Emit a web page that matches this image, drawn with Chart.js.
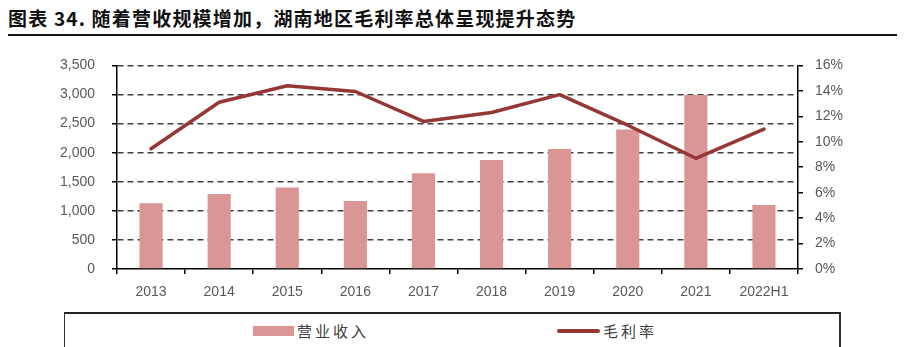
<!DOCTYPE html>
<html>
<head>
<meta charset="utf-8">
<script src="https://cdn.jsdelivr.net/npm/chart.js@4/dist/chart.umd.min.js"></script>
<style>
  html, body { margin: 0; padding: 0; background: #fff; }
  body { width: 908px; height: 347px; position: relative; overflow: hidden; }
  #title { position: absolute; left: 8px; top: 6px; font-family: "Noto Sans CJK SC", sans-serif; font-weight: bold; font-size: 19px; letter-spacing: 1.2px; color: #111; white-space: nowrap; line-height: 24px; }
  #rule { position: absolute; left: 8px; top: 34px; width: 889px; height: 2px; background: #111; }
  #wrap { position: absolute; left: 0; top: 40px; width: 908px; height: 270px; }
  #legend { position: absolute; left: 64px; top: 312px; width: 774px; height: 33px; border-top: 2px solid #222; border-left: 1.5px solid #333; border-right: 2px solid #333; border-bottom: 1px solid #bbb; }
  .item { position: absolute; top: 0; height: 33px; display: flex; align-items: center; font-family: "Noto Sans CJK SC", serif; font-size: 15px; letter-spacing: 3px; color: #404040; white-space: nowrap; }
  .sw { display: inline-block; margin-right: 3px; }
</style>
</head>
<body>
<div id="title">图表 34. 随着营收规模增加，湖南地区毛利率总体呈现提升态势</div>
<div id="rule"></div>
<div id="wrap"><canvas id="c" width="908" height="270"></canvas></div>
<div id="legend"></div>
<script>
const categories = ['2013', '2014', '2015', '2016', '2017', '2018', '2019', '2020', '2021', '2022H1'];
const revenue = [1130, 1290, 1400, 1170, 1645, 1875, 2065, 2400, 2990, 1100];
const grossMargin = [9.45, 13.1, 14.4, 13.95, 11.6, 12.3, 13.7, 11.3, 8.7, 11.0];
const revenueTicks = [0, 500, 1000, 1500, 2000, 2500, 3000, 3500];
const marginTicks = [0, 2, 4, 6, 8, 10, 12, 14, 16];
const seriesNames = ['营业收入', '毛利率'];

const BAR_COLOR = '#d99694';
const LINE_COLOR = '#953735';
const tickFont = { family: '"Liberation Sans", Arial, sans-serif', size: 14 };

const chart = new Chart(document.getElementById('c'), {
  type: 'bar',
  data: {
    labels: categories,
    datasets: [
      { type: 'line', label: seriesNames[1], data: grossMargin, yAxisID: 'y1', borderColor: LINE_COLOR, backgroundColor: LINE_COLOR, borderWidth: 3.5, pointRadius: 0, tension: 0, order: 0, borderCapStyle: 'round', borderJoinStyle: 'round' },
      { type: 'bar', label: seriesNames[0], data: revenue, yAxisID: 'y', backgroundColor: BAR_COLOR, borderWidth: 0, barPercentage: 0.34, categoryPercentage: 1, order: 1 }
    ]
  },
  options: {
    responsive: false,
    animation: false,
    layout: { padding: { top: 21, left: 0, right: 0, bottom: 0 } },
    plugins: { legend: { display: false }, tooltip: { enabled: false }, title: { display: false } },
    scales: {
      x: {
        type: 'category',
        offset: true,
        grid: { offset: true, drawOnChartArea: false, drawTicks: true, tickLength: 5, color: '#000', lineWidth: 1.5 },
        border: { color: '#000', width: 1.5 },
        ticks: { color: '#595959', font: tickFont, padding: 10, maxRotation: 0, autoSkip: false },
        afterFit: s => { s.height = 41; }
      },
      y: {
        position: 'left',
        min: 0, max: 3500,
        afterBuildTicks: s => { s.ticks = revenueTicks.map(v => ({ value: v })); },
        grid: {
          drawOnChartArea: true, drawTicks: true, tickLength: 5, lineWidth: 1.5,
          color: c => (c.tick && c.tick.value === 0) ? 'rgba(0,0,0,0)' : '#404040',
          tickColor: '#000'
        },
        border: { color: '#000', width: 1.5, dash: [6, 4] },
        ticks: { color: '#595959', font: tickFont, padding: 17, callback: v => v.toLocaleString('en-US') },
        afterFit: s => { s.width = 117; }
      },
      y1: {
        position: 'right',
        min: 0, max: 16,
        afterBuildTicks: s => { s.ticks = marginTicks.map(v => ({ value: v })); },
        grid: { drawOnChartArea: false, drawTicks: true, tickLength: 5, color: '#000', lineWidth: 1.5 },
        border: { color: '#000', width: 1.5 },
        ticks: { color: '#595959', font: tickFont, padding: 12, callback: v => v + '%' },
        afterFit: s => { s.width = 110; }
      }
    }
  }
});

// HTML legend built from the chart's datasets
const legend = document.getElementById('legend');
const positions = { '营业收入': 188, '毛利率': 492 };
[chart.data.datasets[1], chart.data.datasets[0]].forEach(ds => {
  const item = document.createElement('div');
  item.className = 'item';
  item.style.left = positions[ds.label] + 'px';
  const sw = document.createElement('span');
  sw.className = 'sw';
  if (ds.type === 'bar') {
    sw.style.width = '41px'; sw.style.height = '10px'; sw.style.background = ds.backgroundColor;
  } else {
    sw.style.width = '43px'; sw.style.height = '4px'; sw.style.background = ds.borderColor; sw.style.borderRadius = '2px';
  }
  item.appendChild(sw);
  item.appendChild(document.createTextNode(ds.label));
  legend.appendChild(item);
});
</script>
</body>
</html>
